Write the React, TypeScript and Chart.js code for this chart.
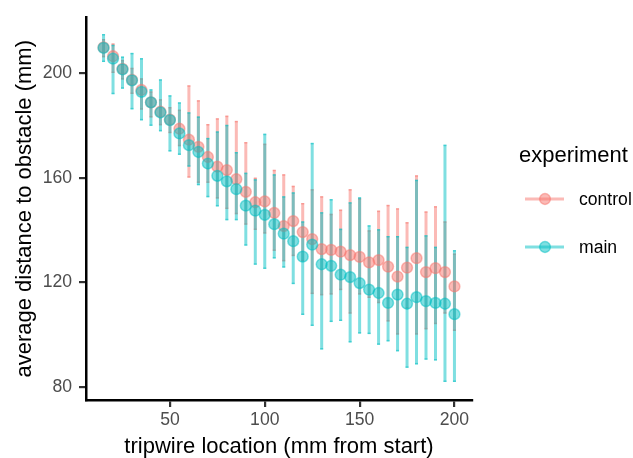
import React, { useEffect, useRef } from 'react';
import { Chart, registerables } from 'chart.js';

Chart.register(...registerables);

const FONT = '"Liberation Sans", Arial, Helvetica, sans-serif';

const tripwire = [15, 20, 25, 30, 35, 40, 45, 50, 55, 60, 65, 70, 75, 80, 85, 90, 95, 100, 105, 110,
  115, 120, 125, 130, 135, 140, 145, 150, 155, 160, 165, 170, 175, 180, 185, 190, 195, 200];

const controlMean = [209.8, 206.4, 201.6, 197.4, 193.5, 188.8, 185.2, 182.2, 178.7, 174.5, 171.8, 167.9, 164.2, 162.9, 159.4, 154.6, 150.6, 150.9, 146.5, 141.5,
  143.4, 139.2, 136.5, 132.7, 132.4, 131.7, 130.4, 129.7, 127.6, 128.5, 126.0, 122.2, 125.6, 129.2, 123.9, 125.4, 123.9, 118.4];
const controlLow = [206.0, 200.0, 197.5, 192.0, 186.0, 183.0, 180.0, 177.0, 172.0, 160.0, 158.0, 158.0, 152.0, 148.0, 146.0, 142.0, 140.0, 138.6, 132.0, 128.0,
  130.0, 128.0, 115.5, 115.0, 115.3, 117.0, 108.0, 115.3, 114.0, 112.0, 105.0, 100.0, 110.0, 100.0, 102.0, 104.0, 108.0, 101.4];
const controlHigh = [213.0, 211.3, 205.0, 202.0, 198.0, 193.0, 190.0, 187.0, 186.0, 195.3, 189.6, 180.5, 182.7, 183.7, 181.7, 173.6, 160.0, 173.0, 163.0, 161.3,
  156.9, 150.3, 155.6, 152.9, 146.2, 147.8, 155.6, 152.1, 139.9, 147.4, 149.6, 148.3, 143.0, 160.9, 147.1, 149.1, 143.3, 131.0];

const mainMean = [209.6, 205.5, 201.4, 197.2, 192.8, 188.8, 184.9, 182.0, 176.9, 172.4, 169.8, 165.4, 160.7, 158.6, 155.6, 149.3, 147.4, 145.8, 142.2, 138.6,
  135.7, 129.8, 134.4, 126.9, 126.3, 122.9, 122.0, 119.7, 117.2, 115.9, 112.1, 115.3, 111.8, 114.3, 112.8, 112.1, 111.8, 107.8];
const mainLow = [204.2, 191.9, 194.0, 186.1, 181.9, 179.8, 177.7, 170.0, 168.7, 164.2, 157.1, 152.5, 149.0, 143.7, 143.7, 134.0, 126.7, 125.1, 129.1, 125.6,
  119.3, 107.5, 103.3, 94.3, 104.8, 105.2, 97.0, 100.4, 100.2, 96.1, 97.4, 93.6, 87.3, 88.6, 90.4, 90.1, 81.9, 81.9];
const mainHigh = [214.9, 210.8, 206.3, 207.7, 205.7, 193.8, 197.6, 191.5, 188.8, 185.0, 183.4, 175.2, 177.7, 180.2, 169.8, 161.9, 159.4, 176.8, 161.3, 152.9,
  154.4, 143.3, 173.3, 146.8, 151.8, 140.5, 150.6, 152.5, 141.8, 140.3, 137.7, 137.7, 133.6, 159.2, 138.0, 133.6, 172.6, 132.3];

const xTicks = [50, 100, 150, 200];
const yTicks = [80, 120, 160, 200];
const seriesNames = ['control', 'main'];
const legendTitle = 'experiment';
const xTitle = 'tripwire location (mm from start)';
const yTitle = 'average distance to obstacle (mm)';

const CONTROL = 'rgba(248,118,109,0.5)';
const MAIN = 'rgba(0,191,196,0.5)';
const seriesColors = [CONTROL, MAIN];

const errorBarPlugin = {
  id: 'errorBars',
  beforeDatasetsDraw(chart: any) {
    const ctx = chart.ctx;
    const xs = chart.scales.x;
    const ys = chart.scales.y;
    const series = [
      { lo: controlLow, hi: controlHigh, color: CONTROL },
      { lo: mainLow, hi: mainHigh, color: MAIN },
    ];
    ctx.save();
    series.forEach((s) => {
      ctx.strokeStyle = s.color;
      ctx.lineWidth = 3;
      ctx.lineCap = 'butt';
      tripwire.forEach((x, i) => {
        const px = xs.getPixelForValue(x);
        const y1 = ys.getPixelForValue(s.lo[i]);
        const y2 = ys.getPixelForValue(s.hi[i]);
        ctx.beginPath();
        ctx.moveTo(px, y1);
        ctx.lineTo(px, y2);
        ctx.stroke();
        ctx.fillStyle = s.color;
        ctx.fillRect(px - 1.5, y1 - 1.5, 3, 1.5);
        ctx.fillRect(px - 1.5, y2, 3, 1.5);
      });
    });
    ctx.restore();
  },
};

const legendPlugin = {
  id: 'customLegend',
  afterDraw(chart: any) {
    const ctx = chart.ctx;
    ctx.save();
    ctx.fillStyle = '#000';
    ctx.font = `22px ${FONT}`;
    ctx.textBaseline = 'alphabetic';
    ctx.textAlign = 'left';
    ctx.fillText(legendTitle, 519, 162);
    const rows = [199, 247];
    seriesNames.forEach((name, i) => {
      const y = rows[i];
      const c = seriesColors[i];
      ctx.strokeStyle = c;
      ctx.lineWidth = 3;
      ctx.beginPath();
      ctx.moveTo(525, y);
      ctx.lineTo(564, y);
      ctx.stroke();
      ctx.beginPath();
      ctx.arc(545, y, 5.4, 0, Math.PI * 2);
      ctx.fillStyle = c;
      ctx.fill();
      ctx.lineWidth = 1.5;
      ctx.stroke();
      ctx.fillStyle = '#000';
      ctx.font = `17.6px ${FONT}`;
      ctx.textBaseline = 'middle';
      ctx.fillText(name, 579, y + 1);
    });
    ctx.restore();
  },
};

export default function App() {
  const ref = useRef<HTMLCanvasElement | null>(null);

  useEffect(() => {
    if (!ref.current) return;
    const chart = new Chart(ref.current, {
      type: 'scatter',
      data: {
        datasets: [
          {
            label: seriesNames[0],
            data: tripwire.map((x, i) => ({ x, y: controlMean[i] })),
            backgroundColor: CONTROL,
            borderColor: CONTROL,
            borderWidth: 1.5,
            pointRadius: 5.4,
            order: 2,
          },
          {
            label: seriesNames[1],
            data: tripwire.map((x, i) => ({ x, y: mainMean[i] })),
            backgroundColor: MAIN,
            borderColor: MAIN,
            borderWidth: 1.5,
            pointRadius: 5.4,
            order: 1,
          },
        ],
      },
      options: {
        animation: false,
        responsive: false,
        devicePixelRatio: 1,
        layout: { padding: { top: 13, right: 161, bottom: 0, left: 0 } },
        plugins: {
          legend: { display: false },
          tooltip: { enabled: false },
        },
        scales: {
          x: {
            type: 'linear',
            min: 5.75,
            max: 209.25,
            afterBuildTicks: (s: any) => {
              s.ticks = xTicks.map((v) => ({ value: v }));
            },
            afterFit: (s: any) => {
              s.height = 58;
            },
            grid: {
              display: true,
              drawOnChartArea: false,
              drawTicks: true,
              tickLength: 7,
              color: '#333333',
              lineWidth: 2.2,
            },
            border: { display: true, color: '#000', width: 2.5 },
            ticks: {
              color: '#4D4D4D',
              font: { family: FONT, size: 17.6 },
              padding: 3,
              maxRotation: 0,
              autoSkip: false,
            },
            title: {
              display: true,
              text: xTitle,
              color: '#000',
              font: { family: FONT, size: 22, lineHeight: 1 },
              padding: { top: 0, bottom: 0 },
            },
          },
          y: {
            type: 'linear',
            min: 75,
            max: 221.2,
            afterBuildTicks: (s: any) => {
              s.ticks = yTicks.map((v) => ({ value: v }));
            },
            afterFit: (s: any) => {
              s.width = 86;
            },
            grid: {
              display: true,
              drawOnChartArea: false,
              drawTicks: true,
              tickLength: 7,
              color: '#333333',
              lineWidth: 2.2,
            },
            border: { display: true, color: '#000', width: 2.5 },
            ticks: {
              color: '#4D4D4D',
              font: { family: FONT, size: 17.6 },
              padding: 7,
              autoSkip: false,
            },
            title: {
              display: true,
              text: yTitle,
              color: '#000',
              font: { family: FONT, size: 22, lineHeight: 1 },
              padding: { top: 14, bottom: 0 },
            },
          },
        },
      },
      plugins: [errorBarPlugin, legendPlugin],
    } as any);
    return () => chart.destroy();
  }, []);

  return (
    <div style={{ position: 'fixed', left: 0, top: 0, width: 633, height: 458, background: '#fff' }}>
      <canvas ref={ref} width={633} height={458} style={{ display: 'block' }} />
    </div>
  );
}
